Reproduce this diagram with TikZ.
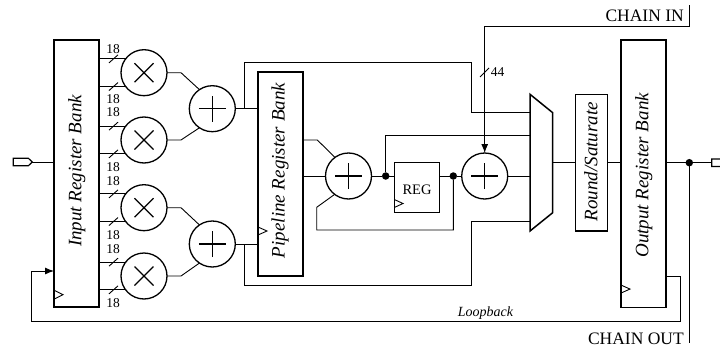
\documentclass[tikz,border=0pt]{standalone}
\usepackage{fontspec}
\setmainfont{Liberation Serif}
\usetikzlibrary{arrows.meta,calc}
\begin{document}
\begin{tikzpicture}[x=1pt,y=-1pt,
  box/.style={draw, line width=1.5pt, inner sep=0pt, outer sep=0pt},
  op/.style={draw, circle, line width=1.3pt, minimum size=46pt, inner sep=0pt, outer sep=0pt},
  mulop/.style={op, path picture={\draw[line width=1.2pt]
      (path picture bounding box.center) ++(-9.5pt,-9.5pt) -- ++(19pt,19pt)
      (path picture bounding box.center) ++(-9.5pt,9.5pt) -- ++(19pt,-19pt);}},
  addop/.style={op, path picture={\draw[line width=1.2pt]
      (path picture bounding box.center) ++(-13.5pt,0pt) -- ++(27pt,0pt)
      (path picture bounding box.center) ++(0pt,-13pt) -- ++(0pt,26pt);}},
  wire/.style={line width=0.9pt},
  dot/.style={circle, fill, minimum size=7.5pt, inner sep=0pt, outer sep=0pt},
  lbl/.style={font=\fontsize{19}{19}\selectfont\itshape, rotate=90, inner sep=0pt},
  small/.style={font=\fontsize{13.5}{13.5}\selectfont, inner sep=0pt},
  big/.style={font=\fontsize{17.5}{17.5}\selectfont, inner sep=0pt},
  arr/.style={-{Latex[length=9pt,width=7pt]}}
]
\clip (0,0) rectangle (720,348);

% register banks and blocks
\node[box, minimum width=45pt, minimum height=267pt] (inreg) at (76.5,173.7) {};
\node[lbl] (inregl) at (76.7,171) {Input Register Bank};
\node[box, minimum width=45pt, minimum height=204pt] (pipe) at (280.5,174) {};
\node[lbl] (pipel) at (280,170.5) {Pipeline Register Bank};
\node[box, minimum width=45.4pt, minimum height=50.4pt] (reg) at (417,187.5) {};
\node[font=\fontsize{14.5}{14.5}\selectfont, inner sep=0pt] (regl) at (417,190) {REG};
\node[box, minimum width=32.4pt, minimum height=136.7pt] (round) at (591.5,162.7) {};
\node[lbl] (roundl) at (591,161.7) {Round/Saturate};
\node[box, minimum width=45pt, minimum height=267.3pt] (outreg) at (643.5,173.7) {};
\node[lbl] (outregl) at (643.7,175.3) {Output Register Bank};

% multipliers and adders
\node[mulop] (m1) at (144,72.7) {};
\node[mulop] (m2) at (144,140) {};
\node[mulop] (m3) at (144,207.7) {};
\node[mulop] (m4) at (144,276) {};
\node[addop] (a1) at (212.3,108.7) {};
\node[addop] (a2) at (212.3,244) {};
\node[addop] (a3) at (348.5,176) {};
\node[addop] (a4) at (484.7,176) {};

% mux
\coordinate (mux1) at (530,94.3);
\coordinate (mux2) at (552.7,112.7);
\coordinate (mux3) at (552.7,212.7);
\coordinate (mux4) at (530,231);
\draw[line width=1.5pt] (mux1) -- (mux2) -- (mux3) -- (mux4) -- cycle;
\coordinate (mi1) at (530,112.7);
\coordinate (mi2) at (530,135);
\coordinate (mi3) at (530,176);
\coordinate (mi4) at (530,221.7);
\coordinate (mo) at (552.7,162.7);

% dots
\node[dot] (d1) at (385.7,176) {};
\node[dot] (d2) at (453.3,176) {};
\node[dot] (d3) at (689.3,162.7) {};

% clock triangles
\draw[wire] (inreg.south west) ++(0,-17) -- ++(9,4.5) -- ++(-9,4.5);
\draw[wire] (pipe.south west) ++(0,-49) -- ++(9,4) -- ++(-9,4);
\draw[wire] (reg.south west) ++(0,-13.2) -- ++(8.7,4) -- ++(-8.7,4);
\draw[wire] (outreg.south west) ++(0,-22.3) -- ++(9,4) -- ++(-9,4);

% input port
\coordinate (pin) at (32.3,162);
\draw[line width=1.2pt] (pin) -- ++(-4,-3.8) -- ++(-15,0) -- ++(0,7.6) -- ++(15,0) -- cycle;
\draw[wire] (pin) -- (pin -| inreg.west);

% multiplier inputs with bus marks
\foreach \m in {m1,m2,m3,m4}{
  \draw[wire] (\m.143) -- (\m.143 -| inreg.east);
  \draw[wire] (\m.217) -- (\m.217 -| inreg.east);
  \draw[wire] ($(\m.143 -| inreg.east)+(10,4)$) -- ++(9,-8);
  \draw[wire] ($(\m.217 -| inreg.east)+(10,4)$) -- ++(9,-8);
}
\node[small] (w1) at (113,49.5) {18};
\node[small] (w2) at (113,99.5) {18};
\node[small] (w3) at (113,112.2) {18};
\node[small] (w4) at (113,167) {18};
\node[small] (w5) at (113,181) {18};
\node[small] (w6) at (113,235) {18};
\node[small] (w7) at (113,249.5) {18};
\node[small] (w8) at (113,303.5) {18};

% multipliers to adders
\draw[wire] (m1.east) -- ++(14,0) -- (a1.124);
\draw[wire] (m2.east) -- ++(14,0) -- (a1.236);
\draw[wire] (m3.east) -- ++(14,0) -- (a2.124);
\draw[wire] (m4.east) -- ++(14,0) -- (a2.236);

% adders to pipeline and bypasses
\draw[wire] (a1.east) -- (a1.east -| pipe.west);
\draw[wire] (a2.east) -- (a2.east -| pipe.west);
\coordinate (j1) at (244.3,108.7);
\coordinate (j2) at (244.3,244);
\coordinate (t1) at (471.3,62.7);
\coordinate (t2) at (471.3,285);
\draw[wire] (j1) |- (t1) |- (mi1);
\draw[wire] (j2) |- (t2) |- (mi4);

% pipeline to accumulator adder
\coordinate (p1) at (303,140);
\draw[wire] (p1) -- ++(14.3,0) -- (a3.126);
\draw[wire] (a3.west -| pipe.east) -- (a3.west);
\coordinate (fb1) at (316.7,207.3);
\coordinate (fb2) at (316.7,230);
\draw[wire] (a3.233) -- (fb1) -- (fb2) -| (d2);
\draw[wire] (a3.east) -- (d1) -- (reg.west |- d1);
\draw[wire] (d1) |- (mi2);
\draw[wire] (reg.east |- d2) -- (d2) -- (a4.west);
\draw[wire] (a4.east) -- (mi3);

% chain in
\coordinate (cin) at (689,5);
\coordinate (cinc) at (689,26.7);
\draw[wire] (cin) -- (cinc);
\draw[wire, arr] (cinc) -| (a4.north);
\draw[wire] (480,77) -- ++(9,-9);
\node[small] (w44) at (497.7,71.7) {44};
\node[big, anchor=base east] (chin) at (684,21.7) {CHAIN IN};

% output path
\draw[wire] (mo) -- (mo -| round.west);
\draw[wire] (round.east |- mo) -- (outreg.west |- mo);
\coordinate (pout) at (711.7,162.7);
\draw[wire] (outreg.east |- mo) -- (pout);
\draw[line width=1.2pt] (pout) -- ++(0,-3.8) -- ++(15,0) -- ++(4,3.8) -- ++(-4,3.8) -- ++(-15,0) -- cycle;

% chain out
\coordinate (cout) at (689.3,343);
\draw[wire] (d3) -- (cout);
\node[big, anchor=base east] (chout) at (684,344) {CHAIN OUT};

% loopback
\coordinate (lbo) at (680,276);
\coordinate (lbA) at (680,321.7);
\coordinate (lbB) at (31.3,271);
\draw[wire, arr] (outreg.east |- lbo) -| (lbA) -| (lbB) -- (lbB -| inreg.west);
\node[font=\fontsize{14}{14}\selectfont\itshape, inner sep=0pt, anchor=base] (lbl) at (485.5,316.7) {Loopback};
\end{tikzpicture}
\end{document}
